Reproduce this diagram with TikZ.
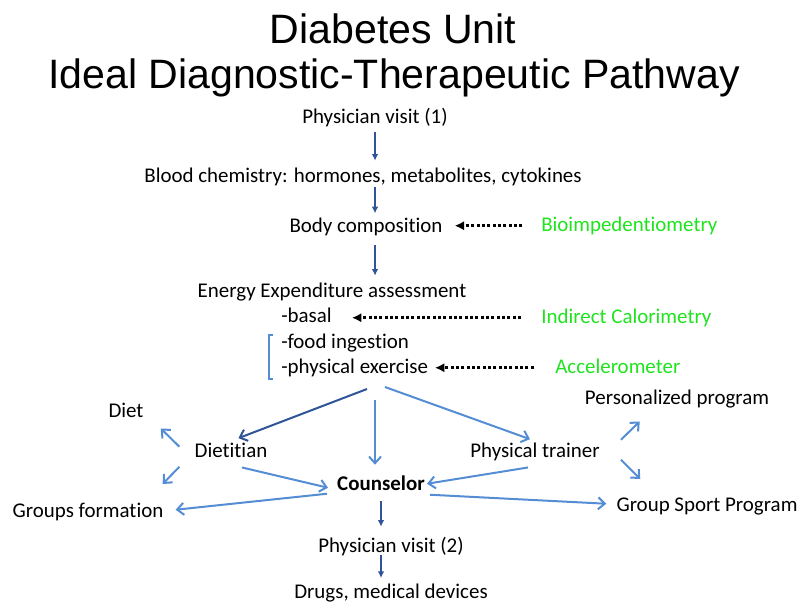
\documentclass[tikz,border=0pt]{standalone}
\usepackage{fontspec}
\setmainfont{Carlito}[Ligatures={NoCommon}]
\newfontfamily\titlefont{Liberation Sans}
\usetikzlibrary{arrows.meta,calc,positioning}
\definecolor{flowdark}{RGB}{47,85,151}
\definecolor{flowlight}{RGB}{84,141,212}
\definecolor{toolgreen}{RGB}{30,228,30}
\tikzset{
    x=0.75pt, y=-0.75pt, % one unit is one pixel of the slide
    every node/.style={inner sep=0pt, anchor=base, text height=11.8pt, text depth=3.9pt,
        font=\fontsize{15.7}{19}\selectfont},
    title/.style={font=\titlefont\fontsize{30.8}{36}\selectfont, text height=22pt, text depth=6pt},
    tool/.style={text=toolgreen, anchor=base west},
    item/.style={anchor=base west},
    mainflow/.style={draw=flowdark, line width=1.5pt, -{Latex[length=5pt,width=5pt]}},
    sideflow/.style={draw=flowlight, line width=1.5pt, -{Straight Barb[length=5pt,width=9pt]}},
    measure/.style={draw=black, line width=2.4pt, dash pattern=on 2.2pt off 1.8pt,
        -{Latex[length=7pt,width=7pt]}},
}
\begin{document}
\begin{tikzpicture}
      \useasboundingbox (0,0) rectangle (798,604);
      \node (q_title1) [title] at (393,43) {Diabetes Unit};
      \node (q_title2) [title] at (394,88) {Ideal Diagnostic-Therapeutic Pathway};

      \coordinate (c_axis) at (375,0);
      \coordinate (c_fan) at (375,387);
      \node (q_visit1) at (375,123) {Physician visit (1)};
      \node (q_blood) at (363,182) {Blood chemistry: hormones, metabolites, cytokines};
      \node (q_body) at (366,232) {Body composition};
      \node (q_bia) [tool] at (541,231) {Bioimpedentiometry};
      \node (q_energy) at (332,297) {Energy Expenditure assessment};
      \node (q_basal) [item] at (281,322) {-basal};
      \node (q_food) [item] at (281,348) {-food ingestion};
      \node (q_exercise) [item] at (281,373) {-physical exercise};
      \node (q_calor) [tool] at (541,323) {Indirect Calorimetry};
      \node (q_accel) [tool] at (555,373) {Accelerometer};

      \node (q_diet) at (126,417) {Diet};
      \node (q_dietitian) at (231,457) {Dietitian};
      \node (q_groups) at (88,517) {Groups formation};
      \node (q_counselor) at (381,490) {\bfseries Counselor};
      \node (q_trainer) at (535,457) {Physical trainer};
      \node (q_personal) at (677,404) {Personalized program};
      \node (q_sport) at (707,511) {Group Sport Program};
      \node (q_visit2) at (391,552) {Physician visit (2)};
      \node (q_drugs) at (391,598) {Drugs, medical devices};

      % bracket round food and exercise
      \draw[flowlight, line width=0.8pt] ([shift={(-8,-13)}]q_food.base west) -- ++(-4,0)
          -- ([shift={(-12,6)}]q_exercise.base west) -- ++(4,0);

      \path
      (c_axis |- q_visit1.south)   edge [mainflow, shorten <=3pt, shorten >=4pt] (c_axis |- q_blood.north)
      (c_axis |- q_blood.south)    edge [mainflow, shorten >=2pt] (c_axis |- q_body.north)
      (c_axis |- q_body.south)     edge [mainflow, shorten <=6pt, shorten >=4pt] (c_axis |- q_energy.north)
      (q_bia.west)                 edge [measure, shorten <=14pt, shorten >=9pt] (q_bia.west -| q_body.east)
      (q_calor.west)               edge [measure, shorten <=15pt, shorten >=15pt] (q_calor.west -| q_basal.east)
      (q_accel.west)               edge [measure, shorten <=16pt, shorten >=5pt] (q_accel.west -| q_exercise.east)
      ([shift={(-8,2)}]c_fan)      edge [mainflow, -{Straight Barb[length=5pt,width=9pt]}, shorten >=6pt] (q_dietitian.north)
      ([shift={(0,13)}]c_fan)      edge [sideflow, shorten >=7pt] (c_fan |- q_counselor.north)
      ([shift={(10,0)}]c_fan)      edge [sideflow, shorten >=4pt] (q_trainer.north)
      ([shift={(-15,-5)}]q_dietitian.west) edge [sideflow] ([shift={(17,6)}]q_diet.south east)
      ([shift={(-15,15)}]q_dietitian.west) edge [sideflow] ([shift={(-1,-17)}]q_groups.north east)
      ([shift={(11,5)}]q_dietitian.south)  edge [sideflow] ([shift={(-9,3)}]q_counselor.west)
      ([shift={(-10,9)}]q_counselor.west)  edge [sideflow] ([shift={(12,-2)}]q_groups.east)
      ([shift={(-7,5)}]q_trainer.south)    edge [sideflow] ([shift={(2,-1)}]q_counselor.east)
      ([shift={(5,10)}]q_counselor.east)   edge [sideflow] ([shift={(-10,-2)}]q_sport.west)
      ([shift={(21,-12)}]q_trainer.east)   edge [sideflow] ([shift={(55,12)}]q_personal.south west)
      ([shift={(21,8)}]q_trainer.east)     edge [sideflow] ([shift={(24,-16)}]q_sport.north west)
      (q_counselor.south)          edge [mainflow, shorten <=4pt, shorten >=7pt] (q_counselor.south |- q_visit2.north)
      (q_counselor.south |- q_visit2.south) edge [mainflow, shorten <=-1.5pt, shorten >=3pt] (q_counselor.south |- q_drugs.north)
      ;
\end{tikzpicture}
\end{document}
